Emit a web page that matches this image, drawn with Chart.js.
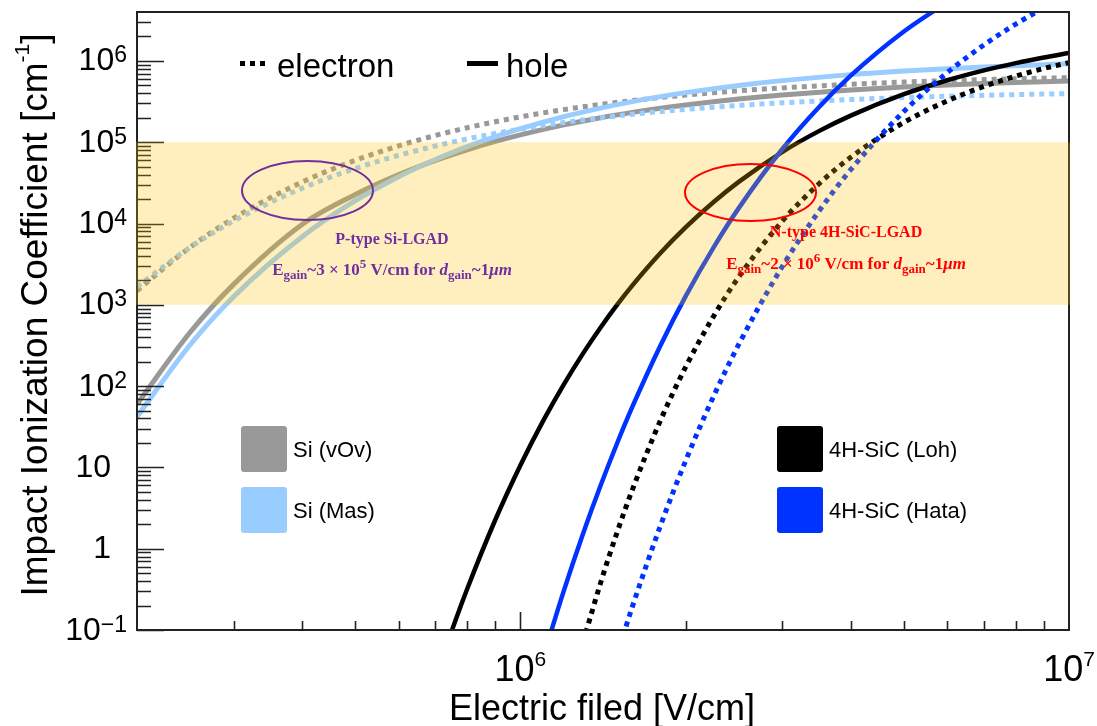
<!DOCTYPE html>
<html>
<head>
<meta charset="utf-8">
<script src="https://cdn.jsdelivr.net/npm/chart.js@4.4.0/dist/chart.umd.min.js"></script>
<style>
  body { margin: 0; background: #fff; }
  canvas { display: block; }
</style>
</head>
<body>
<canvas id="c" width="1097" height="726"></canvas>
<script>
// electric field grids [V/cm]
var siField = [2e5, 2.5e5, 3e5, 4e5, 5e5, 6e5, 7e5, 8e5, 9e5, 1e6, 1.2e6, 1.4e6, 1.6e6, 1.8e6,
               2e6, 2.5e6, 3e6, 4e6, 5e6, 6e6, 7e6, 8e6, 9e6, 1e7];
var sicField = [7e5, 7.5e5, 8e5, 9e5, 1e6, 1.1e6, 1.2e6, 1.3e6, 1.4e6, 1.5e6, 1.6e6, 1.8e6,
                2e6, 2.25e6, 2.5e6, 3e6, 3.5e6, 4e6, 5e6, 6e6, 7e6, 8e6, 9e6, 1e7];

// impact ionization coefficients [cm^-1]
var vovElectron = [1492, 5111, 11610, 32390, 59940, 90340, 121100, 150900, 179000, 205300, 252000, 291800,
                   325700, 354800, 379900, 429700, 466400, 516800, 549600, 572600, 589600, 602700, 613100, 621600];
var vovHole = [60.0, 459.5, 1786, 9740, 22710, 39930, 59750, 80840, 102300, 123400, 163700, 200200,
               232900, 262000, 287800, 340900, 381600, 439400, 478300, 506000, 526800, 543000, 555900, 566500];
var masElectron = [1672, 5104, 10740, 27220, 47550, 68970, 89960, 109800, 128200, 145100, 174800, 199600,
                   220600, 238300, 253600, 283500, 305400, 335200, 354400, 367800, 377700, 385300, 391300, 396200];
var masHole = [42.0, 323.0, 1259, 6889, 19100, 37710, 61300, 88230, 117100, 146900, 206400, 263200,
               315800, 363800, 407500, 499700, 572500, 678600, 751400, 804300, 844300, 875700, 900800, 921500];

var lohElectron = [null, null, null, null, null, null, null, 0.0701, 0.380, 1.58, 5.34, 37.9,
                   171, 725, 2198, 10660, 30740, 65280, 175400, 323000, 486600, 651200, 808400, 954400];
var lohHole = [0.0254, 0.0989, 0.322, 2.27, 10.65, 37.3, 105.2, 251, 526, 997, 1735, 4343,
               8978, 18430, 32570, 75710, 137000, 212600, 389500, 578900, 765000, 940400, 1102000, 1250000];
var hataElectron = [null, null, null, null, null, null, null, null, null, 0.0491, 0.194, 1.921,
                    12.01, 75.1, 325.7, 2940, 14150, 45980, 239400, 719300, 1578000, 2845000, 4499000, null];
var hataHole = [null, null, null, null, null, 0.0460, 0.305, 1.517, 5.99, 19.70, 55.8, 316.9,
                1271, 5096, 15480, 81970, 269600, 658300, 2298000, 5287000, null, null, null, null];

var legendNames = ['Si (vOv)', 'Si (Mas)', '4H-SiC (Loh)', '4H-SiC (Hata)'];
var legendColors = ['#999999', '#99ccff', '#000000', '#0033ff'];
var bandRange = [1e3, 1e5];
var xTickLabels = [1e6, 1e7];
var yTickLabels = [0.1, 1, 10, 100, 1e3, 1e4, 1e5, 1e6];

var SANS = '"Liberation Sans", Arial, sans-serif';
var SERIF = '"Liberation Serif", "Times New Roman", serif';

function pts(xs, ys) {
  var out = [];
  for (var i = 0; i < xs.length; i++) {
    if (ys[i] !== null) out.push({x: xs[i], y: ys[i]});
  }
  return out;
}

function curve(label, xs, ys, color, dashed, width, order) {
  return {
    label: label,
    data: pts(xs, ys),
    borderColor: color,
    borderWidth: width,
    borderDash: dashed ? [5, 5] : [],
    borderCapStyle: 'butt',
    pointRadius: 0,
    fill: false,
    cubicInterpolationMode: 'monotone',
    clip: 0,
    order: order
  };
}

// draws a row of text runs (for sub/superscripts)
function drawRuns(ctx, runs, x, y, align) {
  var w = 0;
  runs.forEach(function (r) { ctx.font = r.font; w += ctx.measureText(r.text).width; });
  var cx = align === 'center' ? x - w / 2 : (align === 'right' ? x - w : x);
  ctx.textAlign = 'left';
  ctx.textBaseline = 'alphabetic';
  runs.forEach(function (r) {
    ctx.font = r.font;
    ctx.fillText(r.text, cx, y + (r.dy || 0));
    cx += ctx.measureText(r.text).width;
  });
  return w;
}

function powParts(v) {
  var n = Math.round(Math.log10(v));
  if (n === 0) return ['1', ''];
  if (n === 1) return ['10', ''];
  return ['10', n < 0 ? '\u2212' + (-n) : String(n)];
}

function gainRuns(mant, exp) {
  var b = 'bold 17px ' + SERIF, bi = 'italic bold 17px ' + SERIF, s = 'bold 13px ' + SERIF;
  return [
    {text: 'E', font: b}, {text: 'gain', font: s, dy: 4},
    {text: '~' + mant + ' \u00d7 10', font: b}, {text: exp, font: s, dy: -7},
    {text: ' V/cm for ', font: b}, {text: 'd', font: bi}, {text: 'gain', font: s, dy: 4},
    {text: '~1', font: b}, {text: '\u03bcm', font: bi}
  ];
}

var decor = {
  id: 'decor',
  afterDatasetsDraw: function (chart) {
    var ctx = chart.ctx, a = chart.chartArea;
    var xs = chart.scales.x, ys = chart.scales.y;
    ctx.save();

    // frame
    ctx.strokeStyle = '#222';
    ctx.lineWidth = 2;
    ctx.strokeRect(a.left, a.top, a.right - a.left, a.bottom - a.top);

    // inward ticks
    ctx.lineWidth = 1.6;
    ctx.beginPath();
    for (var e = -1; e <= 6; e++) {
      for (var k = 1; k <= 9; k++) {
        var v = k * Math.pow(10, e);
        if (v < ys.min || v >= ys.max) continue;
        var py = Math.round(ys.getPixelForValue(v)) + 0.5;
        ctx.moveTo(a.left, py);
        ctx.lineTo(a.left + (k === 1 ? 27 : 14), py);
      }
    }
    for (var ex = 5; ex <= 6; ex++) {
      for (var kx = 1; kx <= 9; kx++) {
        var vx = kx * Math.pow(10, ex);
        if (vx <= xs.min || vx >= xs.max) continue;
        var px = Math.round(xs.getPixelForValue(vx)) + 0.5;
        ctx.moveTo(px, a.bottom);
        ctx.lineTo(px, a.bottom - (kx === 1 ? 18 : 9));
      }
    }
    ctx.stroke();

    // gain band
    var yHi = ys.getPixelForValue(bandRange[1]), yLo = ys.getPixelForValue(bandRange[0]);
    ctx.fillStyle = 'rgba(255,192,0,0.25)';
    ctx.fillRect(a.left - 1, yHi, a.right - a.left + 2, yLo - yHi);

    // ellipses
    ctx.lineWidth = 2;
    ctx.strokeStyle = '#7030a0';
    ctx.beginPath();
    ctx.ellipse(307.5, 190.5, 65.5, 29.5, 0, 0, 2 * Math.PI);
    ctx.stroke();
    ctx.strokeStyle = '#ff0000';
    ctx.beginPath();
    ctx.ellipse(750.5, 192.5, 65.5, 28.5, 0, 0, 2 * Math.PI);
    ctx.stroke();

    // annotations
    ctx.fillStyle = '#7030a0';
    drawRuns(ctx, [{text: 'P-type Si-LGAD', font: 'bold 16px ' + SERIF}], 392, 244, 'center');
    drawRuns(ctx, gainRuns('3', '5'), 392, 275, 'center');
    ctx.fillStyle = '#ff0000';
    drawRuns(ctx, [{text: 'N-type 4H-SiC-LGAD', font: 'bold 16px ' + SERIF}], 846, 237, 'center');
    drawRuns(ctx, gainRuns('2', '6'), 846, 269, 'center');

    // y tick labels
    ctx.fillStyle = '#000';
    yTickLabels.forEach(function (v) {
      var p = powParts(v), py = ys.getPixelForValue(v);
      if (p[1]) {
        drawRuns(ctx, [{text: p[0], font: '32px ' + SANS},
                       {text: p[1], font: '23px ' + SANS, dy: -8}], 127, py + 9.5, 'right');
      } else {
        drawRuns(ctx, [{text: p[0], font: '32px ' + SANS}], 111, py + 9.5, 'right');
      }
    });

    // x tick labels
    xTickLabels.forEach(function (v) {
      var p = powParts(v), px = xs.getPixelForValue(v);
      drawRuns(ctx, [{text: p[0], font: '36px ' + SANS},
                     {text: p[1], font: '21px ' + SANS, dy: -15}], px, 681, 'center');
    });

    // axis titles
    drawRuns(ctx, [{text: 'Electric filed [V/cm]', font: '36px ' + SANS}], 602, 720, 'center');
    ctx.save();
    ctx.translate(47, 315);
    ctx.rotate(-Math.PI / 2);
    drawRuns(ctx, [{text: 'Impact Ionization Coefficient [cm', font: '37px ' + SANS},
                   {text: '-1', font: '21px ' + SANS, dy: -18},
                   {text: ']', font: '37px ' + SANS}], 0, 0, 'center');
    ctx.restore();

    // line style legend
    ctx.strokeStyle = '#000';
    ctx.lineWidth = 5;
    ctx.lineCap = 'butt';
    ctx.setLineDash([5, 5]);
    ctx.beginPath(); ctx.moveTo(240, 63.5); ctx.lineTo(267, 63.5); ctx.stroke();
    ctx.setLineDash([]);
    ctx.beginPath(); ctx.moveTo(467, 63.5); ctx.lineTo(498, 63.5); ctx.stroke();
    ctx.fillStyle = '#000';
    drawRuns(ctx, [{text: 'electron', font: '33px ' + SANS}], 277, 77, 'left');
    drawRuns(ctx, [{text: 'hole', font: '33px ' + SANS}], 506, 77, 'left');

    // material legend
    var boxes = [[241, 426], [241, 487], [777, 426], [777, 487]];
    legendNames.forEach(function (name, i) {
      var b = boxes[i];
      ctx.fillStyle = legendColors[i];
      ctx.beginPath();
      if (ctx.roundRect) ctx.roundRect(b[0], b[1], 46, 46, 3); else ctx.rect(b[0], b[1], 46, 46);
      ctx.fill();
      ctx.fillStyle = '#000';
      drawRuns(ctx, [{text: name, font: '22px ' + SANS}], b[0] + 52, b[1] + 31, 'left');
    });

    ctx.restore();
  }
};

new Chart(document.getElementById('c'), {
  type: 'line',
  data: {
    datasets: [
      curve('Si (vOv) electron', siField, vovElectron, legendColors[0], true, 5, 4),
      curve('Si (vOv) hole', siField, vovHole, legendColors[0], false, 5, 4),
      curve('Si (Mas) electron', siField, masElectron, legendColors[1], true, 5, 3),
      curve('Si (Mas) hole', siField, masHole, legendColors[1], false, 5, 3),
      curve('4H-SiC (Loh) electron', sicField, lohElectron, legendColors[2], true, 5, 2),
      curve('4H-SiC (Loh) hole', sicField, lohHole, legendColors[2], false, 4.5, 2),
      curve('4H-SiC (Hata) electron', sicField, hataElectron, legendColors[3], true, 5, 1),
      curve('4H-SiC (Hata) hole', sicField, hataHole, legendColors[3], false, 4.5, 1)
    ]
  },
  options: {
    responsive: false,
    animation: false,
    layout: {padding: {left: 137, right: 28, top: 12, bottom: 96}},
    plugins: {legend: {display: false}, tooltip: {enabled: false}},
    scales: {
      x: {type: 'logarithmic', min: 2e5, max: 1e7, display: false},
      y: {type: 'logarithmic', min: 0.1, max: 4e6, display: false}
    }
  },
  plugins: [decor]
});
</script>
</body>
</html>
